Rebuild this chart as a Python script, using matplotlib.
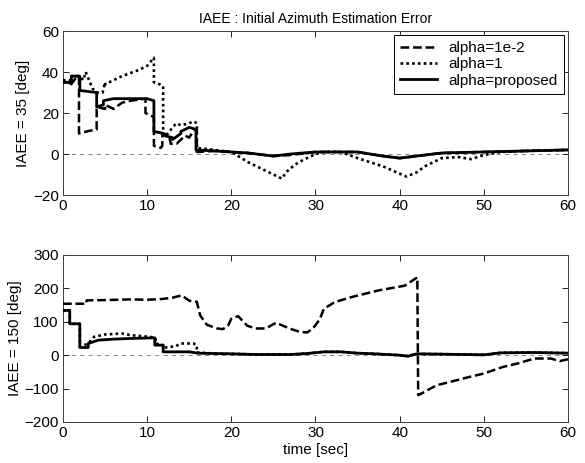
import matplotlib
matplotlib.use("Agg")
import matplotlib.pyplot as plt

plt.rcParams['font.family'] = ['Liberation Sans', 'DejaVu Sans']

# ---- IAEE = 35 deg case ----
t35_small = [0, 0.8, 0.8, 1.5, 1.9, 1.9, 2.8, 4.0, 4.0, 5.0, 5.0, 6.0, 7.0, 8.0, 9.8, 9.8,
             10.8, 10.8, 11.6, 11.8, 11.8, 12.6, 12.8, 13.5, 14.0, 14.5, 15.0, 15.6, 15.9, 15.9,
             18, 20, 22, 25, 27, 30, 35, 38, 40, 42, 45, 50, 55, 60]
e35_small = [35, 35, 33, 37, 38, 10, 11, 12, 23, 22, 24, 22, 25, 26, 27, 20,
             18, 4, 3, 4, 10, 9, 5, 5, 7, 9, 8, 12, 12, 1,
             1.5, 1, 0.5, -1, -0.5, 1, 1, -1, -2, -1, 0.5, 1, 1.5, 2]

t35_one = [0, 1.0, 1.0, 2.0, 2.4, 2.7, 2.9, 3.5, 4.0, 4.7, 5.0, 5.0, 7.0, 9.0, 10.0, 10.8, 10.8,
           11.5, 11.9, 11.9, 12.5, 13.0, 13.5, 14.0, 15.0, 15.5, 15.9, 15.9, 18, 20, 22, 24, 26,
           26.5, 27, 28, 29, 30, 31, 33, 35, 38, 40.8, 42, 43, 44, 45, 47, 48.5, 50, 52, 55, 60]
e35_one = [36, 36, 38, 38, 36, 40, 38, 32, 30, 30, 35, 34, 38, 41, 43, 47, 35,
           34, 33, 9, 10, 13, 15, 14, 15, 16, 15, 3, 2, 1, -4, -8, -12,
           -9, -7, -4, -2, 0, 1, 1, -2, -6, -11, -9, -6, -4, -2, -1.5, -2.5, -0.5, 1, 1.5, 2]

t35_prop = [0, 1, 1, 2, 2, 4, 4, 4.8, 4.8, 6, 8, 10, 10.8, 10.8, 12, 12, 13, 13, 14, 14,
            15, 15.8, 15.8, 18, 20, 22, 25, 27, 30, 35, 38, 40, 42, 45, 50, 55, 60]
e35_prop = [35, 35, 38, 38, 31, 30, 23, 24, 26, 27, 27, 27, 26, 11, 10, 9, 8, 7, 10, 11,
            13, 12, 2, 1.5, 1, 0.5, -1, 0, 1, 1, -1, -2, -1, 0.5, 1, 1.5, 2]

# ---- IAEE = 150 deg case ----
t150_small = [0, 2.8, 2.8, 5, 8, 10, 11.7, 13, 14.1, 14.5, 15, 15.9, 16.3, 17.1, 18.3, 19.0,
              19.6, 20.0, 20.8, 21.9, 22.9, 24.1, 25.3, 26.9, 28.1, 29.0, 29.7, 30.5, 31.0,
              32.3, 34.3, 37.5, 40.6, 42.1, 42.2, 44.4, 46, 48.3, 50, 52.3, 54, 56, 58, 59, 60]
e150_small = [154, 154, 164, 165, 167, 166, 168, 172, 179, 172, 163, 160, 119, 91, 80, 78,
              88, 109, 117, 88, 80, 80, 97, 80, 70, 68, 80, 107, 139,
              159, 174, 194, 208, 233, -120, -90, -80, -65, -55, -35, -25, -10, -10, -18, -12]

t150_one = [0, 0.8, 0.8, 2.0, 2.0, 3.0, 3.7, 5, 7, 8, 10.3, 11.0, 11.0, 11.9, 11.9, 13.4,
            14.0, 15.5, 15.9, 15.9, 18, 20, 23, 27, 29, 31, 33, 35, 37, 40, 41, 42, 45, 50,
            52, 56, 60]
e150_one = [134, 134, 94, 94, 25, 35, 55, 62, 65, 60, 55, 52, 35, 30, 22, 27,
            35, 35, 30, 8, 5, 4, 2, 2, 5, 10, 10, 6, 4, 0, -3, 4, 3, 1,
            7, 8, 6]

t150_prop = [0, 0.8, 0.8, 2.0, 2.0, 3.0, 3.0, 4.2, 6, 8, 10.9, 10.9, 11.9, 11.9, 15, 16,
             18, 20, 23, 27, 29, 31, 33, 35, 37, 40, 41, 42, 45, 50, 52, 56, 60]
e150_prop = [134, 134, 94, 94, 23, 23, 35, 45, 48, 50, 52, 30, 30, 10, 10, 6,
             5, 4, 2, 2, 5, 10, 10, 6, 4, 0, -3, 4, 3, 1, 7, 8, 6]

labels = ['alpha=1e-2', 'alpha=1', 'alpha=proposed']
styles = [dict(linestyle=(0, (3.5, 1.5)), linewidth=1.8),
          dict(linestyle=(0, (1, 1.2)), linewidth=1.9),
          dict(linestyle='-', linewidth=2.0)]

fig = plt.figure(figsize=(5.85, 4.63), dpi=100)
ax1 = fig.add_axes([0.1077, 0.5788, 0.8632, 0.3542])
ax2 = fig.add_axes([0.1077, 0.0886, 0.8632, 0.3607])


def style_axes(ax, ylim, yticks):
    ax.axhline(0, color='0.45', linewidth=0.6, linestyle=(0, (5, 5)), zorder=1)
    ax.set_xlim(0, 60)
    ax.set_ylim(*ylim)
    ax.set_xticks(range(0, 61, 10))
    ax.set_yticks(yticks)
    ax.tick_params(direction='in', top=True, right=True, length=4,
                   width=0.6, labelsize=11, colors='black', pad=3)
    for s in ax.spines.values():
        s.set_linewidth(0.7)
        s.set_color('0.25')


series35 = [(t35_small, e35_small), (t35_one, e35_one), (t35_prop, e35_prop)]
series150 = [(t150_small, e150_small), (t150_one, e150_one), (t150_prop, e150_prop)]

for (t, e), lab, st in zip(series35, labels, styles):
    ax1.plot(t, e, color='black', label=lab, zorder=3, **st)
for (t, e), st in zip(series150, styles):
    ax2.plot(t, e, color='black', zorder=3, **st)

style_axes(ax1, (-20, 60), range(-20, 61, 20))
style_axes(ax2, (-200, 300), range(-200, 301, 100))

ax1.set_title('IAEE : Initial Azimuth Estimation Error', fontsize=10, pad=6)
ax1.set_ylabel('IAEE = 35 [deg]', fontsize=11, labelpad=2)
ax2.set_ylabel('IAEE = 150 [deg]', fontsize=11, labelpad=2)
ax2.set_xlabel('time [sec]', fontsize=11, labelpad=2)

leg = ax1.legend(loc='upper right', fontsize=11, fancybox=False, framealpha=1,
                 edgecolor='black', handlelength=2.4, borderpad=0.4,
                 labelspacing=0.15, borderaxespad=0.25, handletextpad=0.8)
leg.get_frame().set_linewidth(0.7)

fig.savefig('out.png', dpi=100)
